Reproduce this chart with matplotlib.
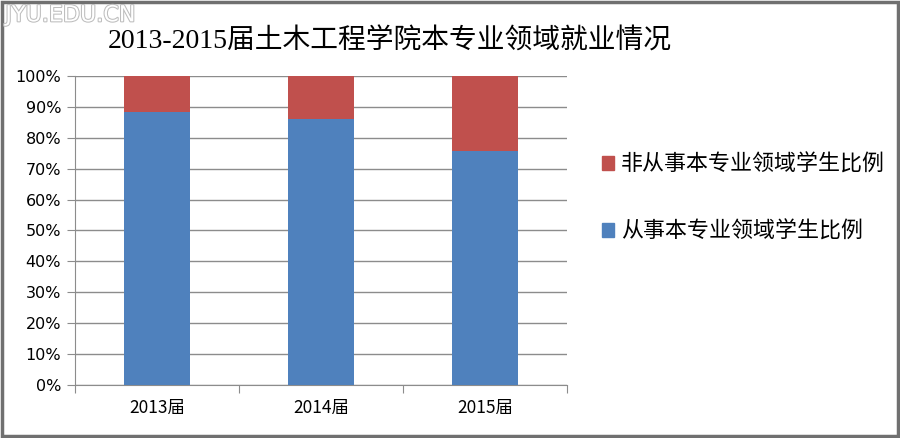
import matplotlib
matplotlib.use("Agg")
import matplotlib.pyplot as plt
import matplotlib.patheffects as pe
from matplotlib.patches import Rectangle, Patch
import numpy as np

# 数据
years = ["2013届", "2014届", "2015届"]
in_field = [0.883, 0.861, 0.757]      # 从事本专业领域学生比例
out_field = [0.117, 0.139, 0.243]     # 非从事本专业领域学生比例
yticks = [0, 0.1, 0.2, 0.3, 0.4, 0.5, 0.6, 0.7, 0.8, 0.9, 1.0]

blue = "#4F81BD"
red = "#C0504D"
cjk = ["Noto Sans CJK SC", "DejaVu Sans"]

plt.rcParams['font.family'] = cjk

fig = plt.figure(figsize=(9, 4.38), dpi=100)
ax = fig.add_axes([0.0833, 0.121, 0.5467, 0.7055])

x = np.arange(len(years))
ax.bar(x, in_field, width=0.4, color=blue, zorder=3)
ax.bar(x, out_field, width=0.4, bottom=in_field, color=red, zorder=3)

ax.set_xlim(-0.5, 2.5)
ax.set_ylim(0, 1.0)
ax.set_yticks(yticks)
ax.set_yticklabels(["%d%%" % round(v * 100) for v in yticks], fontsize=11.5,
                   family=["DejaVu Sans"])
ax.yaxis.grid(True, color="#8c8c8c", linewidth=1, zorder=0)
ax.set_axisbelow(True)

# 类别刻度在类别之间
ax.set_xticks([-0.5, 0.5, 1.5, 2.5])
ax.set_xticklabels([])
ax.set_xticks(x, minor=True)
ax.set_xticklabels(years, minor=True, fontsize=12.5)
ax.tick_params(axis="x", which="minor", length=0, pad=10)
ax.tick_params(axis="x", which="major", length=6, color="#8c8c8c", direction="out")
ax.tick_params(axis="y", length=6, color="#8c8c8c", direction="out", pad=4)

for s in ["top", "right"]:
    ax.spines[s].set_visible(False)
for s in ["left", "bottom"]:
    ax.spines[s].set_color("#8c8c8c")

# 标题
fig.text(0.433, 0.905, "2013-2015届土木工程学院本专业领域就业情况", ha="center",
         va="center", fontsize=20, family=["Liberation Serif", "Noto Sans CJK SC"])

# 图例
handles = [Patch(color=red), Patch(color=blue)]
labels = ["非从事本专业领域学生比例", "从事本专业领域学生比例"]
fig.legend(handles, labels, loc="upper left", bbox_to_anchor=(0.647, 0.694),
           frameon=False, fontsize=15.8, handlelength=0.55, handleheight=0.55,
           handletextpad=0.3, labelspacing=2.05)

# 水印
fig.text(0.006, 0.965, "JYU.EDU.CN", ha="left", va="center", fontsize=16,
         color="white", family=["DejaVu Sans"],
         path_effects=[pe.withStroke(linewidth=1.5, foreground="#bdbdbd")])

# 外框
fig.patches.append(Rectangle((0.002, 0.004), 0.996, 0.992, transform=fig.transFigure,
                             fill=False, edgecolor="#707070", linewidth=2.5))

fig.savefig("out.png", dpi=100)
